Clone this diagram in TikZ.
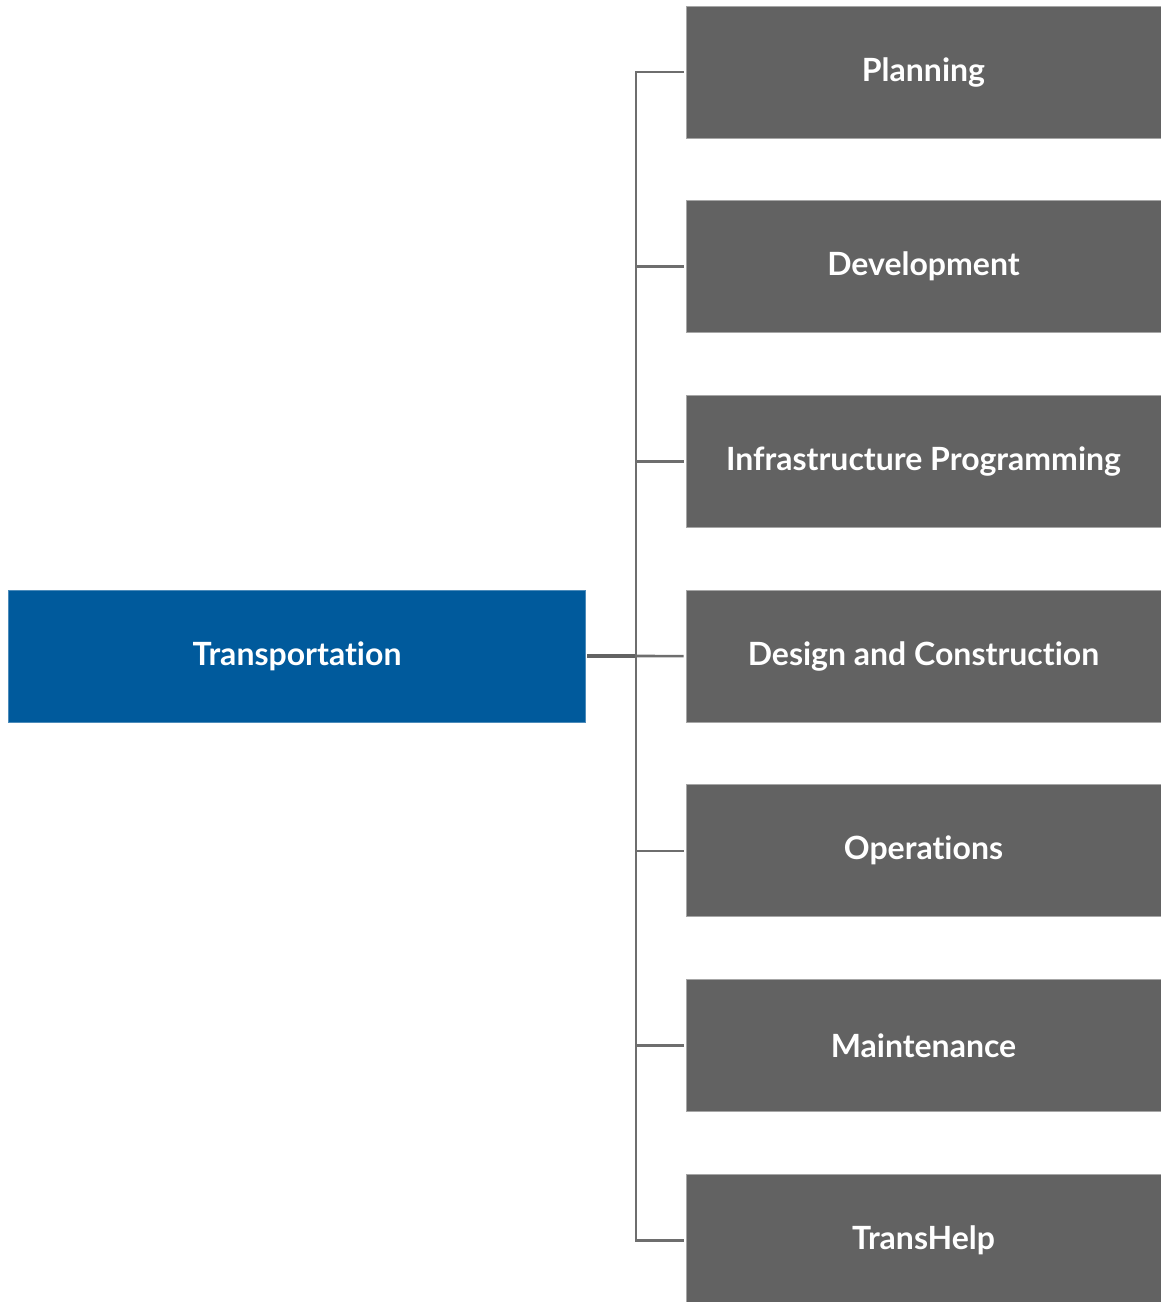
\documentclass[tikz,border=0pt]{standalone}
\usepackage{fontspec}
\setmainfont[Ligatures=NoCommon]{Lato}
\usetikzlibrary{positioning}
\definecolor{boxgray}{HTML}{626262}
\definecolor{boxblue}{HTML}{005A9C}
\definecolor{linegray}{HTML}{6E6E6E}
\tikzstyle{root} = [rectangle, minimum width=577pt, minimum height=132pt, text centered, draw=boxblue!70!white, line width=0.8pt, fill=boxblue, text=white, font=\bfseries\fontsize{32}{38}\selectfont]
\tikzstyle{unit} = [rectangle, minimum width=475pt, minimum height=132pt, text centered, draw=gray!70, line width=0.8pt, fill=boxgray, text=white, font=\bfseries\fontsize{32}{38}\selectfont]
\tikzstyle{link} = [draw=linegray, line width=2.6pt]

\begin{document}
\begin{tikzpicture}[x=1pt, y=-1pt, node distance=194.7pt]
\useasboundingbox (0,0) rectangle (1161,1302);

\node (plan) [unit] at (923.5,72) {Planning};
\node (dev) [unit, below of=plan] {Development};
\node (infra) [unit, below of=dev] {Infrastructure Programming};
\node (design) [unit, below of=infra] {Design and Construction};
\node (ops) [unit, below of=design] {Operations};
\node (maint) [unit, below of=ops] {Maintenance};
\node (help) [unit, below of=maint] {TransHelp};

\node (trans) [root] at (297,656) {Transportation};
\coordinate (hub) at (636,656);

\draw [link, line width=3.6pt, draw=linegray!90!black] ([xshift=1.5pt]trans.east) -- (hub);
\draw [link] (hub) |- ([xshift=-2pt]plan.west);
\draw [link] (hub) |- ([xshift=-2pt]dev.west);
\draw [link] (hub) |- ([xshift=-2pt]infra.west);
\draw [link] (hub) -- ([xshift=-2pt]design.west);
\draw [link] (hub) |- ([xshift=-2pt]ops.west);
\draw [link] (hub) |- ([xshift=-2pt]maint.west);
\draw [link] (hub) |- ([xshift=-2pt]help.west);

\end{tikzpicture}
\end{document}
